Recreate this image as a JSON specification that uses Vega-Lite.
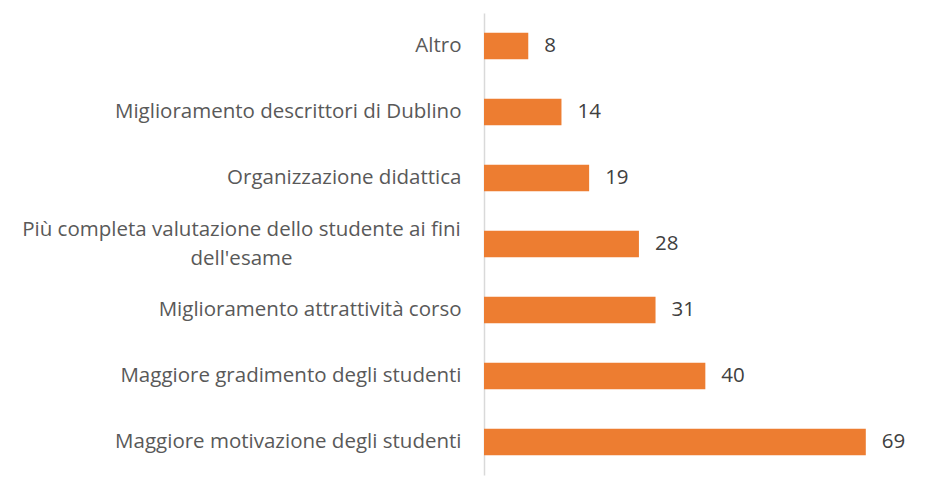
{
  "$schema": "https://vega.github.io/schema/vega-lite/v6.json",
  "width": 415,
  "height": 462,
  "autosize": {"type": "none"},
  "padding": {"left": 484, "top": 13, "right": 39, "bottom": 21},
  "background": "white",
  "config": {"view": {"stroke": null}, "font": "Open Sans"},
  "data": {
    "values": [
      {"motivo": "Altro", "valore": 8},
      {"motivo": "Miglioramento descrittori di Dublino", "valore": 14},
      {"motivo": "Organizzazione didattica", "valore": 19},
      {"motivo": "Più completa valutazione dello studente ai fini dell'esame", "valore": 28},
      {"motivo": "Miglioramento attrattività corso", "valore": 31},
      {"motivo": "Maggiore gradimento degli studenti", "valore": 40},
      {"motivo": "Maggiore motivazione degli studenti", "valore": 69}
    ]
  },
  "encoding": {
    "y": {
      "field": "motivo",
      "type": "nominal",
      "sort": {"field": "valore", "order": "ascending"},
      "scale": {"paddingInner": 0.6, "paddingOuter": 0.3},
      "axis": {
        "title": null,
        "ticks": false,
        "domainColor": "#d9d9d9",
        "domainWidth": 1.5,
        "labelFont": "Open Sans",
        "labelFontSize": 20.5,
        "labelColor": "#595959",
        "labelLimit": 600,
        "labelLineHeight": 29,
        "labelExpr": "datum.value == \"Più completa valutazione dello studente ai fini dell'esame\" ? ['Più completa valutazione dello studente ai fini', \"dell'esame\"] : datum.label",
        "labelAlign": {"condition": {"test": "datum.value == \"Più completa valutazione dello studente ai fini dell'esame\"", "value": "center"}, "value": "right"},
        "labelPadding": {"condition": {"test": "datum.value == \"Più completa valutazione dello studente ai fini dell'esame\"", "value": 243}, "value": 23},
        "labelOffset": {"condition": {"test": "datum.value == \"Più completa valutazione dello studente ai fini dell'esame\"", "value": -14}, "value": 0}
      }
    },
    "x": {
      "field": "valore",
      "type": "quantitative",
      "scale": {"domain": [0, 75], "nice": false},
      "axis": null
    }
  },
  "layer": [
    {"mark": {"type": "bar", "color": "#ED7D31"}},
    {
      "mark": {"type": "text", "align": "left", "dx": 16, "fontSize": 20.5, "color": "#404040", "font": "Open Sans"},
      "encoding": {"text": {"field": "valore", "type": "quantitative"}}
    }
  ]
}
